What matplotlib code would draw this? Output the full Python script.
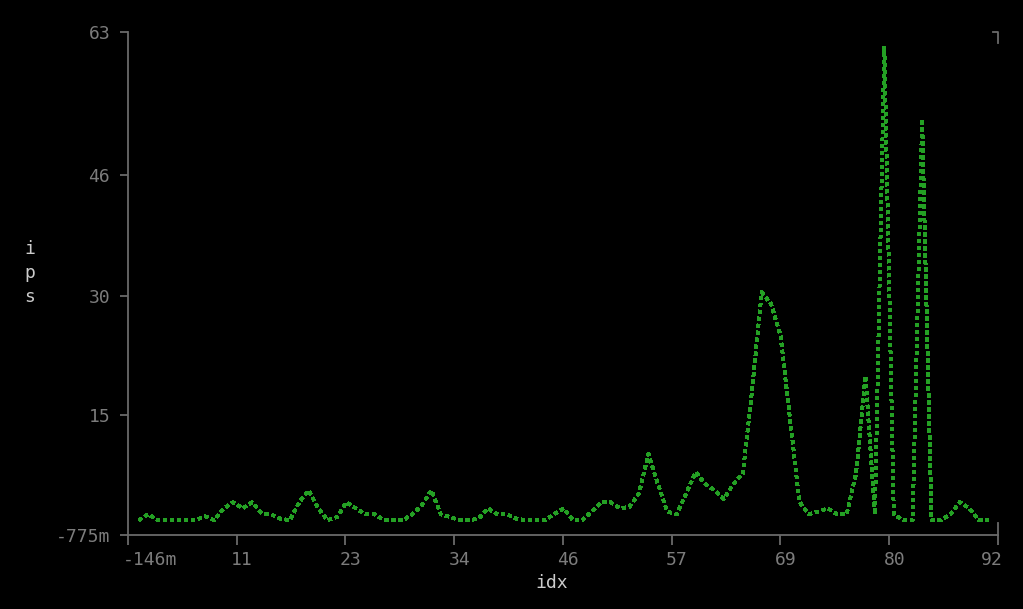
import matplotlib
matplotlib.use("Agg")
import matplotlib.pyplot as plt
from matplotlib.lines import Line2D
from matplotlib.transforms import ScaledTranslation

# ips per idx
idx = list(range(1, 92))
ips = [
    1.1, 1.85, 1.1, 1.1, 1.1, 1.1, 1.1, 1.6, 1.1, 2.6,
    3.37, 2.6, 3.37, 2.0, 1.85, 1.3, 1.1, 3.37, 4.9, 2.6,
    1.1, 1.5, 3.37, 2.6, 1.85, 1.85, 1.1, 1.1, 1.1, 1.85,
    3.0, 4.9, 1.85, 1.5, 1.1, 1.1, 1.3, 2.6, 1.85, 1.85,
    1.3, 1.1, 1.1, 1.1, 1.85, 2.6, 1.1, 1.1, 2.2, 3.37,
    3.37, 2.6, 2.8, 4.5, 9.5, 5.7, 2.2, 1.85, 4.5, 7.2,
    5.7, 4.9, 3.8, 5.7, 7.0, 17.8, 30.0, 28.5, 24.5, 14.0,
    3.4, 1.85, 2.2, 2.6, 1.85, 1.85, 7.0, 19.4, 1.85, 61.2,
    1.85, 1.1, 1.1, 52.0, 1.1, 1.1, 1.85, 3.4, 2.6, 1.1,
    1.1,
]

x_min, x_max = -0.146, 92
y_min, y_max = -0.775, 63
x_tick_labels = ["-146m", "11", "23", "34", "46", "57", "69", "80", "92"]
y_ticks = [-0.775, 14.44, 29.53, 44.87, 63]
y_tick_labels = ["-775m", "15", "30", "46", "63"]

axis_col = "#6a6a6a"
label_col = "#7c7c7c"
title_col = "#cccccc"
line_col = "#24a024"
mono = "DejaVu Sans Mono"

fig = plt.figure(figsize=(10.23, 6.09), dpi=100, facecolor="black")
ax = fig.add_axes([128 / 1023, 74 / 609, 869.6 / 1023, 503 / 609])
ax.set_facecolor("black")

# braille-like dotted trace
ax.plot(idx, ips, color=line_col, lw=2.2, ls=(0, (1, 1.15)),
        dash_capstyle="butt", antialiased=False)

ax.set_xlim(x_min, x_max)
ax.set_ylim(y_min, y_max)

x_ticks = [x_min + i * (x_max - x_min) / 8 for i in range(9)]
ax.set_xticks(x_ticks)
ax.set_xticklabels(x_tick_labels)
ax.set_yticks(y_ticks)
ax.set_yticklabels(y_tick_labels)

for s in ["top", "right"]:
    ax.spines[s].set_visible(False)
for s in ["left", "bottom"]:
    ax.spines[s].set_color(axis_col)
    ax.spines[s].set_linewidth(1.3)

ax.tick_params(axis="x", colors=axis_col, length=7.2, width=1.3, pad=4,
               labelcolor=label_col, labelsize=13)
ax.tick_params(axis="y", colors=axis_col, length=5.8, width=1.3, pad=7,
               labelcolor=label_col, labelsize=13)
for lab in ax.get_xticklabels() + ax.get_yticklabels():
    lab.set_family(mono)

# x labels sit in character cells, slightly off their ticks
labs = ax.get_xticklabels()
for lab in labs[:-1]:
    lab.set_ha("left")
    lab.set_transform(lab.get_transform() + ScaledTranslation(-0.055, 0, fig.dpi_scale_trans))
labs[-1].set_ha("right")
labs[-1].set_transform(labs[-1].get_transform() + ScaledTranslation(0.055, 0, fig.dpi_scale_trans))

# corner marks on the right side
ax.add_line(Line2D([0.9947, 1.0, 1.0], [1.0, 1.0, 0.978], transform=ax.transAxes,
                   color=axis_col, lw=1.3, clip_on=False))
ax.add_line(Line2D([1.0, 1.0], [0.0, 0.024], transform=ax.transAxes,
                   color=axis_col, lw=1.3, clip_on=False))

fig.text(552 / 1023, 1 - 583 / 609, "idx", color=title_col, fontsize=13,
         family=mono, ha="center", va="center")
for ch, base in zip("ips", [254, 278, 302]):
    fig.text(30 / 1023, 1 - base / 609, ch, color=title_col, fontsize=13,
             family=mono, ha="center", va="baseline")

fig.savefig("out.png", dpi=100, facecolor="black")
